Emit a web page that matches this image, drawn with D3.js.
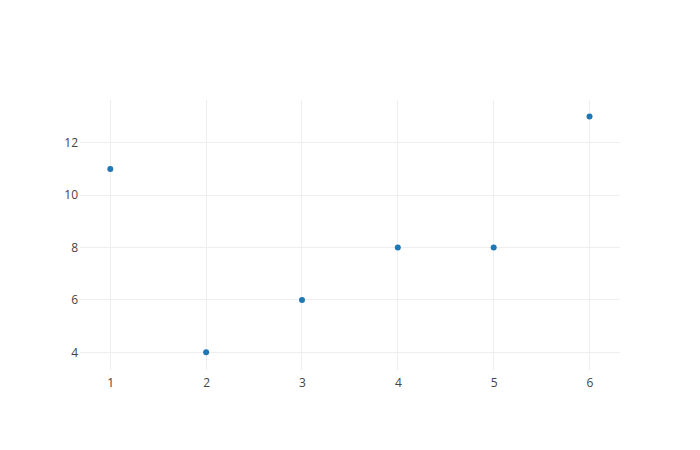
<!DOCTYPE html>
<html><head><meta charset="utf-8">
<script src="https://cdn.jsdelivr.net/npm/d3@7"></script>
<style>body{margin:0;background:#fff}svg{display:block}</style>
</head><body>
<script>
const xValues = [1, 2, 3, 4, 5, 6];
const yValues = [11, 4, 6, 8, 8, 13];
const xTicks = [1, 2, 3, 4, 5, 6];
const yTicks = [4, 6, 8, 10, 12];

const W = 700, H = 450;
const m = {l: 80, r: 80, t: 100, b: 80};
const pw = W - m.l - m.r, ph = H - m.t - m.b;
const svg = d3.select("body").append("svg").attr("width", W).attr("height", H);
const x = d3.scaleLinear().domain([0.684, 6.318]).range([m.l, m.l + pw]);
const y = d3.scaleLinear().domain([3.324, 13.63]).range([m.t + ph, m.t]);
const font = "'Open Sans', sans-serif";

const g = svg.append("g").attr("shape-rendering", "crispEdges");
g.selectAll(".xg").data(xTicks).enter().append("line")
  .attr("x1", d => x(d)).attr("x2", d => x(d)).attr("y1", m.t).attr("y2", m.t + ph)
  .attr("stroke", "#eee").attr("stroke-width", 1);
g.selectAll(".yg").data(yTicks).enter().append("line")
  .attr("x1", m.l).attr("x2", m.l + pw).attr("y1", d => y(d)).attr("y2", d => y(d))
  .attr("stroke", "#eee").attr("stroke-width", 1);

const xAxis = svg.append("g").attr("transform", `translate(0,${m.t + ph})`)
  .call(d3.axisBottom(x).tickValues(xTicks).tickFormat(d3.format("d")).tickSize(0).tickPadding(8));
const yAxis = svg.append("g").attr("transform", `translate(${m.l},0)`)
  .call(d3.axisLeft(y).tickValues(yTicks).tickFormat(d3.format("d")).tickSize(0).tickPadding(2));
[xAxis, yAxis].forEach(a => {
  a.select(".domain").remove();
  a.selectAll("text").attr("font-family", font).attr("font-size", 12).attr("fill", "#444");
});

svg.append("g").selectAll("circle").data(xValues).enter().append("circle")
  .attr("cx", d => x(d)).attr("cy", (d, i) => y(yValues[i])).attr("r", 3)
  .attr("fill", "#1f77b4");
</script>
</body></html>
